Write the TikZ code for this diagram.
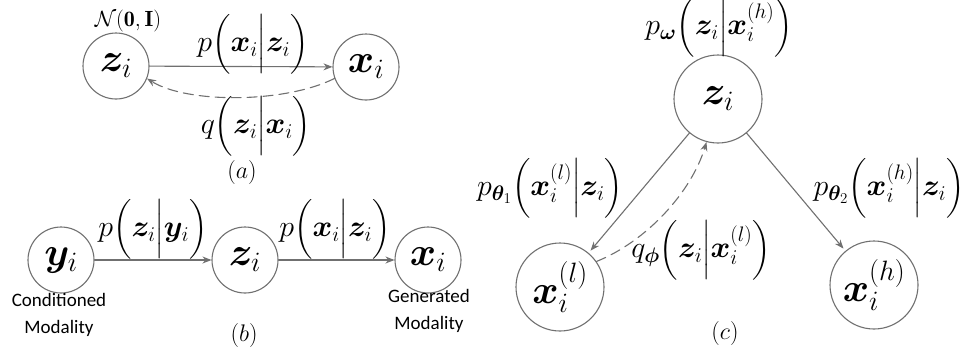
\RequirePackage{fix-cm}
\documentclass[tikz,border=0pt]{standalone}
\usepackage{amsmath,bm}
\usepackage{fontspec}
\newfontfamily\notefont{Carlito}
\usetikzlibrary{arrows.meta}
\definecolor{linegray}{RGB}{112,112,112}
\tikzset{
  rv/.style={circle, draw=linegray, line width=1.1pt, minimum size=66pt,
    inner sep=0pt, font=\fontsize{40}{40}\selectfont},
  bigrv/.style={rv, minimum size=88pt},
  cond/.style={draw=linegray, line width=1.1pt, -{Stealth[length=9pt,width=7pt]}},
  infer/.style={cond, dash pattern=on 10pt off 6pt},
  prob/.style={inner sep=0pt, font=\fontsize{30}{30}\selectfont},
  note/.style={align=center, font=\notefont\fontsize{19}{27}\selectfont},
  caption/.style={font=\fontsize{24}{24}\selectfont},
}
\begin{document}
\begin{tikzpicture}[x=1pt, y=-1pt, line cap=round]
  \useasboundingbox (0,0) rectangle (968,357);
  % (a) the plain VAE.
  \node[rv] (za) at (116,66) {$\bm{z}_i$};
  \node[rv] (xa) at (366,67) {$\bm{x}_i$};
  \node[font=\fontsize{22}{22}\selectfont] (prior) at (128,21) {$\mathcal{N}(\mathbf{0},\mathbf{I})$};
  \draw[cond] (za) -- (xa);
  \draw[infer] (xa.200) .. controls +(-50,25) and +(40,25) .. (za.-22);
  \node[prob] (pa) at (253,44) {$p\Bigl(\bm{x}_i\Big|\bm{z}_i\Bigr)$};
  \node[prob] (qa) at (256,126) {$q\Bigl(\bm{z}_i\Big|\bm{x}_i\Bigr)$};
  \node[caption] (capa) at (242,172) {$(a)$};
  % (b) the conditional chain.
  \node[rv] (yb) at (61,260) {$\bm{y}_i$};
  \node[rv] (zb) at (245,260) {$\bm{z}_i$};
  \node[rv] (xb) at (428,260) {$\bm{x}_i$};
  \draw[cond] (yb) -- (zb);
  \draw[cond] (zb) -- (xb);
  \node[prob] (pzy) at (153,229) {$p\Bigl(\bm{z}_i\Big|\bm{y}_i\Bigr)$};
  \node[prob] (pxz) at (335,229) {$p\Bigl(\bm{x}_i\Big|\bm{z}_i\Bigr)$};
  \node[note] (condl) at (59,315) {Conditioned\\Modality};
  \node[note] (genl) at (429,311) {Generated\\Modality};
  \node[caption] (capb) at (244,335) {$(b)$};
  % (c) two modalities sharing z.
  \node[bigrv] (zc) at (718,99) {$\bm{z}_i$};
  \node[bigrv] (xl) at (560,287) {$\bm{x}_i^{(l)}$};
  \node[bigrv] (xh) at (874,285) {$\bm{x}_i^{(h)}$};
  \draw[cond, shorten >=3pt] (zc) -- (xl);
  \draw[cond, shorten >=3pt] (zc) -- (xh);
  \draw[infer] (xl.35) .. controls +(50,-20) and +(-15,50) .. (zc.-105);
  \node[prob] (pw) at (719,27) {$p_{\bm{\omega}}\Bigl(\bm{z}_i\Big|\bm{x}_i^{(h)}\Bigr)$};
  \node[prob] (pt1) at (550,188) {$p_{\bm{\theta}_1}\Bigl(\bm{x}_i^{(l)}\Big|\bm{z}_i\Bigr)$};
  \node[prob] (pt2) at (889,188) {$p_{\bm{\theta}_2}\Bigl(\bm{x}_i^{(h)}\Big|\bm{z}_i\Bigr)$};
  \node[prob] (qf) at (701,250) {$q_{\bm{\phi}}\Bigl(\bm{z}_i\Big|\bm{x}_i^{(l)}\Bigr)$};
  \node[caption] (capc) at (725,333) {$(c)$};
\end{tikzpicture}
\end{document}
